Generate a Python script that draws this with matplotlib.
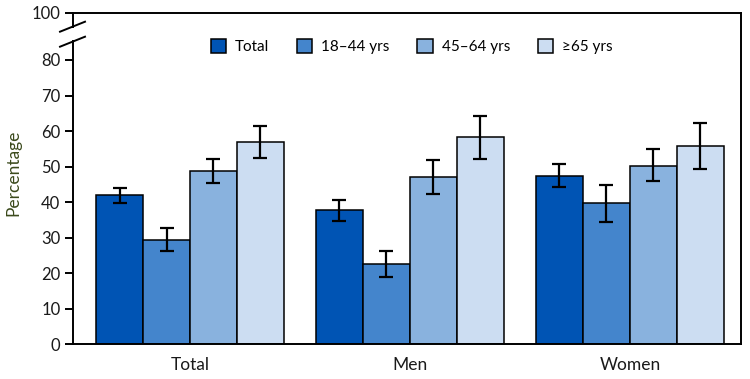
import numpy as np
import matplotlib.pyplot as plt
from matplotlib.lines import Line2D

plt.rcParams['font.family'] = ['Lato', 'DejaVu Sans']

groups = ["Total", "Men", "Women"]
series = ["Total", "18\u201344 yrs", "45\u201364 yrs", "\u226565 yrs"]
colors = ["#0054B4", "#4485CC", "#89B2DE", "#CCDDF2"]

# percentage, lower CI, upper CI (rows = series, cols = groups)
values = [
    [42.0, 37.8, 47.4],
    [29.3, 22.6, 39.7],
    [48.7, 47.2, 50.3],
    [57.0, 58.2, 55.8],
]
ci_low = [
    [39.8, 34.8, 44.3],
    [26.2, 19.0, 34.5],
    [45.3, 42.3, 45.9],
    [52.5, 52.1, 49.2],
]
ci_high = [
    [44.1, 40.6, 50.6],
    [32.6, 26.3, 44.8],
    [52.0, 51.9, 54.9],
    [61.5, 64.2, 62.2],
]

y_top = 93.3      # where the "100" tick sits after the axis break
gap_lo, gap_hi = 85.2, 89.4

fig = plt.figure(figsize=(7.5, 3.79), dpi=100)
ax = fig.add_axes([0.0973, 0.0916, 0.8907, 0.8749])

x = np.arange(len(groups))
w = 0.2136
for i, name in enumerate(series):
    pos = x + (i - 1.5) * w
    v = np.array(values[i])
    err = [v - np.array(ci_low[i]), np.array(ci_high[i]) - v]
    ax.bar(pos, v, width=w, color=colors[i], edgecolor="black", linewidth=1.1,
           label=name, zorder=2)
    ax.errorbar(pos, v, yerr=err, fmt="none", ecolor="black", elinewidth=1.6,
                capsize=5, capthick=1.6, zorder=3)

ax.set_xlim(-0.532, 2.505)
ax.set_ylim(0, y_top)
ax.set_xticks(x)
ax.set_xticklabels(groups, fontsize=12.5, color="#1a1a1a")
ax.tick_params(axis="x", length=0, pad=9)

ax.set_yticks(list(range(0, 81, 10)) + [y_top])
ax.set_yticklabels([str(t) for t in range(0, 81, 10)] + ["100"], fontsize=12, color="#1a1a1a")
ax.tick_params(axis="y", length=6, width=1.4, direction="out", pad=3)

for s in ax.spines.values():
    s.set_linewidth(1.4)
ax.spines["left"].set_bounds(0, gap_lo)
ax.add_line(Line2D([0, 0], [gap_hi, y_top], transform=ax.get_yaxis_transform(),
                   color="black", linewidth=1.4, clip_on=False))

# axis break marks
for y0 in (31.7, 46.7):
    fig.add_artist(Line2D([60 / 750, 85 / 750], [1 - y0 / 379, 1 - (y0 - 10) / 379],
                          color="black", linewidth=1.4))

ax.set_ylabel("Percentage", fontsize=12.5, color="#3b4a1c")
ax.yaxis.set_label_coords(-0.077, 0.517)

ax.legend(loc="upper center", bbox_to_anchor=(0.507, 0.962), ncol=4, frameon=False,
          fontsize=11, handlelength=1.0, handleheight=1.0, handletextpad=0.6,
          columnspacing=1.8)

fig.savefig("out.png", dpi=100)
